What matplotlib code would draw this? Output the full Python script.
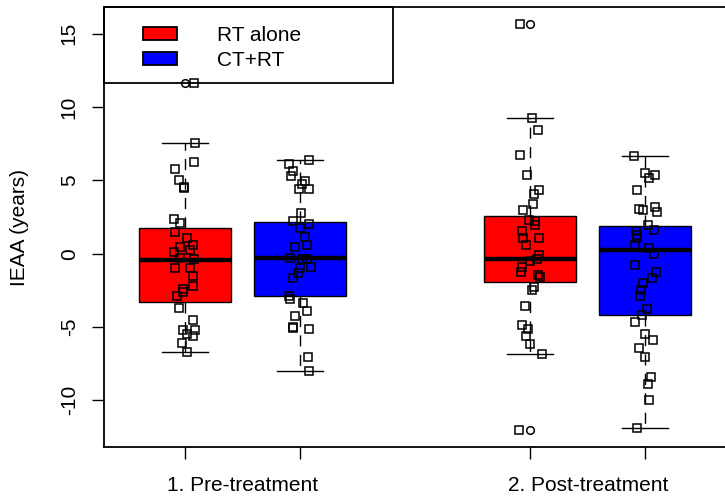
import matplotlib
matplotlib.use('Agg')
import matplotlib.pyplot as plt
from matplotlib.patches import Patch, Rectangle

plt.rcParams['font.family'] = ['Liberation Sans', 'DejaVu Sans']
plt.rcParams['axes.unicode_minus'] = False

GROUPS = ['1. Pre-treatment', '2. Post-treatment']
GROUP_POS = [1.5, 4.5]
ARMS = ['RT alone', 'CT+RT']
ARM_COLORS = ['#ff0000', '#0000ff']
POSITIONS = [1, 2, 4, 5]

# box statistics: whislo, q1, med, q3, whishi
WHISLO = [-6.74, -8.03, -6.83, -11.90]
Q1 = [-3.28, -2.91, -1.96, -4.21]
MED = [-0.41, -0.32, -0.36, 0.27]
Q3 = [1.75, 2.14, 2.59, 1.91]
WHISHI = [7.56, 6.42, 9.26, 6.69]
FLIERS = [[11.65], [], [15.70, -12.06], []]

# individual samples (IEAA, years) and their horizontal jitter
RED_PRE = [7.56, 6.23, 5.78, 5.00, 4.55, 4.47, 2.39, 2.10, 1.50, 1.05, 0.59, 0.46, 0.27, 0.12,
           -0.29, -0.36, -1.00, -1.00, -1.55, -2.23, -2.41, -2.59, -2.87, -3.71, -4.51, -5.19,
           -5.24, -5.46, -5.60, -6.10, -6.74, 11.65]
RED_PRE_JIT = [0.087, 0.078, -0.089, -0.052, -0.009, -0.009, -0.095, -0.043, -0.084, 0.015, 0.072,
               -0.043, 0.043, -0.095, -0.043, 0.078, -0.084, 0.043, 0.067, 0.067, -0.015, -0.015,
               -0.072, -0.055, 0.072, 0.084, -0.015, 0.020, 0.072, -0.029, 0.015, 0.081]
BLUE_PRE = [6.42, 6.14, 5.62, 5.28, 4.94, 4.78, 4.42, 4.42, 2.78, 2.20, 2.00, 1.77, 1.14, 0.61,
            0.46, -0.29, -0.36, -0.36, -0.98, -0.94, -1.32, -1.69, -2.91, -3.07, -3.37, -3.94,
            -4.28, -5.00, -5.07, -5.14, -7.05, -8.03]
BLUE_PRE_JIT = [0.075, -0.093, -0.063, -0.081, 0.043, 0.017, -0.011, 0.081, 0.011, -0.058, 0.081,
                0.000, 0.046, 0.058, -0.043, -0.087, 0.015, 0.058, 0.000, 0.093, -0.017, -0.063,
                -0.093, -0.087, 0.023, 0.063, -0.046, -0.063, -0.058, 0.075, 0.069, 0.081]
RED_POST = [15.70, 9.26, 8.46, 6.76, 5.34, 4.32, 4.10, 3.39, 2.96, 2.32, 2.20, 1.98, 1.55, 1.07,
            1.07, 0.61, -0.07, -0.36, -0.53, -0.91, -1.28, -1.43, -1.62, -2.27, -2.51, -3.60,
            -4.85, -5.12, -5.60, -6.14, -6.83, -12.06]
RED_POST_JIT = [-0.087, 0.017, 0.063, -0.093, -0.026, 0.078, 0.029, 0.020, -0.064, -0.015, 0.041,
                0.041, -0.072, -0.061, 0.078, -0.037, 0.078, 0.058, 0.000, -0.072, -0.081, 0.063,
                0.081, 0.029, 0.015, -0.050, -0.072, -0.023, -0.041, 0.000, 0.101, -0.095]
BLUE_POST = [6.69, 5.51, 5.34, 5.14, 4.35, 3.19, 3.07, 2.96, 2.82, 1.98, 1.59, 1.57, 1.30, 1.07,
             0.61, 0.39, 0.00, -0.80, -1.25, -1.66, -2.00, -2.46, -2.87, -3.77, -4.21, -4.69,
             -5.46, -5.92, -6.46, -7.05, -8.42, -8.87, -10.01, -11.90]
BLUE_POST_JIT = [-0.100, -0.007, 0.082, 0.030, -0.076, 0.082, -0.054, -0.019, 0.100, 0.022, 0.076,
                 -0.082, -0.071, -0.076, -0.089, 0.033, 0.076, -0.089, 0.091, 0.054, -0.019, -0.036,
                 -0.048, 0.010, -0.028, -0.089, 0.000, 0.063, -0.059, 0.000, 0.045, 0.019, 0.033,
                 -0.076]

SAMPLES = [RED_PRE, BLUE_PRE, RED_POST, BLUE_POST]
JITTERS = [RED_PRE_JIT, BLUE_PRE_JIT, RED_POST_JIT, BLUE_POST_JIT]
BOX_COLORS = [ARM_COLORS[0], ARM_COLORS[1], ARM_COLORS[0], ARM_COLORS[1]]

W, H = 725, 499
fig = plt.figure(figsize=(W / 100, H / 100), dpi=100)
ax = fig.add_axes([104.4 / W, (H - 446.7) / H, 621.6 / W, 439.4 / H])

stats = []
for i in range(4):
    stats.append(dict(whislo=WHISLO[i], q1=Q1[i], med=MED[i], q3=Q3[i],
                      whishi=WHISHI[i], fliers=FLIERS[i]))

bp = ax.bxp(stats, positions=POSITIONS, widths=0.8, capwidths=0.4, patch_artist=True,
            boxprops=dict(edgecolor='black', linewidth=1.0),
            medianprops=dict(color='black', linewidth=3.2, solid_capstyle='butt'),
            whiskerprops=dict(color='black', linewidth=1.0, linestyle=(0, (8, 6))),
            capprops=dict(color='black', linewidth=1.0),
            flierprops=dict(marker='o', markerfacecolor='none', markeredgecolor='black',
                            markersize=5.5, markeredgewidth=1.1))
for box, c in zip(bp['boxes'], BOX_COLORS):
    box.set_facecolor(c)

for pos, vals, jit in zip(POSITIONS, SAMPLES, JITTERS):
    xs = [pos + j for j in jit]
    ax.plot(xs, vals, linestyle='none', marker='s', markersize=5.2, markerfacecolor='none',
            markeredgecolor='black', markeredgewidth=1.1, zorder=5)

ax.set_xlim(0.3, 5.7)
ax.set_ylim(-13.17, 16.81)

ax.set_xticks(POSITIONS)
ax.set_xticklabels([])
ax.set_xticks(GROUP_POS, minor=True)
ax.set_xticklabels(GROUPS, minor=True)
ax.tick_params(axis='x', which='major', length=8.5, width=1.0)
ax.tick_params(axis='x', which='minor', length=0, pad=21, labelsize=15)

ax.set_yticks([-10, -5, 0, 5, 10, 15])
ax.tick_params(axis='y', length=8.5, width=1.0, pad=10, labelsize=15, labelrotation=90)
for lab in ax.get_yticklabels():
    lab.set_va('center')

ax.set_ylabel('IEAA (years)', fontsize=15)
ax.yaxis.set_label_coords(-0.121, 0.5)

for sp in ax.spines.values():
    sp.set_linewidth(1.3)

# legend box in the top-left corner
handles = [Patch(facecolor=c, edgecolor='black', linewidth=1.3) for c in ARM_COLORS]
ax.legend(handles, ARMS, loc='upper left', bbox_to_anchor=(0.062, 0.958), frameon=False,
          borderpad=0, borderaxespad=0, fontsize=15, handlelength=1.63, handleheight=0.63,
          handletextpad=1.92, labelspacing=0.29)
ax.add_patch(Rectangle((0, 0.827), 0.464, 0.173, transform=ax.transAxes, fill=False,
                       edgecolor='black', linewidth=1.3, clip_on=False, zorder=6))

fig.savefig('out.png', dpi=100)
